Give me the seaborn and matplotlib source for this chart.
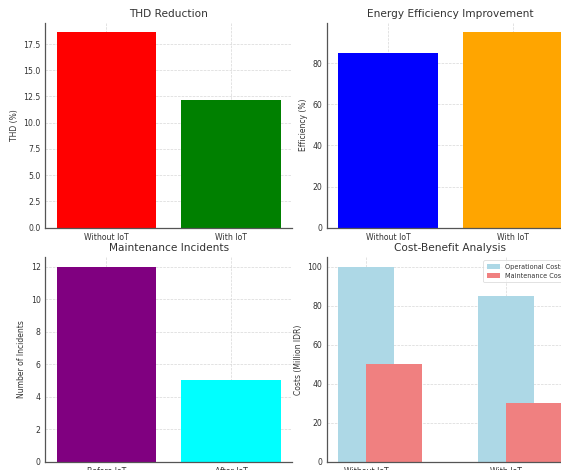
import matplotlib
matplotlib.use("Agg")
import matplotlib.pyplot as plt
import seaborn as sns
import pandas as pd
import numpy as np

# ---- data ----
thd_labels = ["Without IoT", "With IoT"]
thd_values = [18.6, 12.2]
thd_colors = ["red", "green"]

eff_labels = ["Without IoT", "With IoT"]
eff_values = [85, 95]
eff_colors = ["blue", "orange"]

maint_labels = ["Before IoT", "After IoT"]
maint_values = [12, 5]
maint_colors = ["purple", "cyan"]

cost_labels = ["Without IoT", "With IoT"]
operational_costs = [100, 85]
maintenance_costs = [50, 30]

sns.set_style("white")
plt.rcParams['font.family'] = ['DejaVu Sans']

fig = plt.figure(figsize=(5.61, 4.70), dpi=100)
W, H = 561, 470

def add_ax(x0, top, x1, bottom):
    return fig.add_axes([x0 / W, 1 - bottom / H, (x1 - x0) / W, (bottom - top) / H])

ax1 = add_ax(45.4, 22.7, 292, 227.7)
ax2 = add_ax(327, 22.7, 573.6, 227.7)
ax3 = add_ax(45.4, 257.0, 292, 461.7)
ax4 = add_ax(327, 257.0, 573.6, 461.7)

title_fs = 7.6
tick_fs = 5.6
label_fs = 5.5
txt_col = "#333333"

def style(ax, title, ylabel):
    ax.set_title(title, fontsize=title_fs, color=txt_col, pad=4)
    ax.set_ylabel(ylabel, fontsize=label_fs, color=txt_col, labelpad=3)
    ax.set_xlabel("")
    ax.tick_params(axis="both", labelsize=tick_fs, colors=txt_col, length=2, width=0.5, pad=1.5)
    ax.grid(True, linestyle="--", linewidth=0.5, color="#d4d4d4", alpha=0.9)
    ax.set_axisbelow(True)
    for s in ["top", "right"]:
        ax.spines[s].set_visible(False)
    for s in ["left", "bottom"]:
        ax.spines[s].set_color("#555555")
        ax.spines[s].set_linewidth(0.9)

def simple_bar(ax, labels, values, colors, title, ylabel):
    df = pd.DataFrame({"cat": labels, "val": values})
    sns.barplot(data=df, x="cat", y="val", hue="cat", palette=colors, legend=False,
                width=0.8, saturation=1, linewidth=0, ax=ax)
    ax.set_xlim(-0.49, 1.49)
    ax.set_ylim(0, max(values) * 1.05)
    style(ax, title, ylabel)

simple_bar(ax1, thd_labels, thd_values, thd_colors, "THD Reduction", "THD (%)")
ax1.set_yticks(np.arange(0, 18, 2.5))
simple_bar(ax2, eff_labels, eff_values, eff_colors, "Energy Efficiency Improvement", "Efficiency (%)")
ax2.set_yticks([0, 20, 40, 60, 80])
simple_bar(ax3, maint_labels, maint_values, maint_colors, "Maintenance Incidents", "Number of Incidents")
ax3.set_yticks([0, 2, 4, 6, 8, 10, 12])

# grouped (offset) bars
bw = 0.4
pos = np.arange(len(cost_labels))
df_op = pd.DataFrame({"x": pos.astype(float), "v": operational_costs})
df_mt = pd.DataFrame({"x": pos + bw / 2, "v": maintenance_costs})
sns.barplot(data=df_op, x="x", y="v", native_scale=True, width=bw, color="lightblue",
            saturation=1, linewidth=0, label="Operational Costs", ax=ax4)
sns.barplot(data=df_mt, x="x", y="v", native_scale=True, width=bw, color="lightcoral",
            saturation=1, linewidth=0, label="Maintenance Costs", ax=ax4)
ax4.set_xticks(pos, cost_labels)
ax4.set_xlim(-0.28, 1.48)
ax4.set_ylim(0, 105)
ax4.set_yticks([0, 20, 40, 60, 80, 100])
style(ax4, "Cost-Benefit Analysis", "Costs (Million IDR)")
leg = ax4.legend(loc="upper right", fontsize=4.7, frameon=True, handlelength=2.0,
                 borderpad=0.5, labelspacing=0.5)
leg.get_frame().set_edgecolor("#cccccc")
leg.get_frame().set_linewidth(0.5)
for t in leg.get_texts():
    t.set_color(txt_col)

fig.savefig("out.png", dpi=100)
